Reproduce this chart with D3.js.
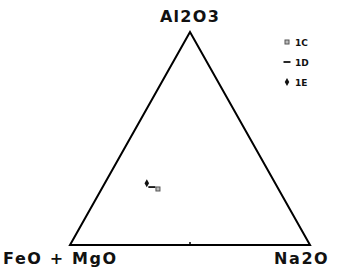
<!DOCTYPE html>
<html>
<head>
<meta charset="utf-8">
<script src="https://cdn.jsdelivr.net/npm/d3@7"></script>
<style>
  body { margin: 0; background: #fff; }
  text { font-family: "DejaVu Sans", "Liberation Sans", sans-serif; font-weight: bold; fill: #111; }
</style>
</head>
<body>
<div id="chart"></div>
<script>
// ternary apexes
const apexLabels = ["Al2O3", "FeO + MgO", "Na2O"]

// samples: fractions of Al2O3, FeO+MgO, Na2O
const samples = ["1C", "1D", "1E"]
const al2o3 = [0.263, 0.272, 0.29]
const femg = [0.502, 0.523, 0.535]
const na2o = [0.235, 0.205, 0.175]

const width = 348, height = 267

const svg = d3.select("#chart")
  .append("svg")
    .attr("width", width)
    .attr("height", height)

// triangle frame in screen coordinates
const x = d3.scaleLinear().domain([0, 1]).range([70, 310])
const y = d3.scaleLinear().domain([0, 1]).range([245, 32])

// barycentric -> screen
function project(a, f, n) {
  const s = a + f + n
  a /= s; n /= s
  return [x(n + a / 2), y(a)]
}

const corners = [project(1, 0, 0), project(0, 1, 0), project(0, 0, 1)]

svg.append("path")
  .attr("d", d3.line()(corners) + "Z")
  .attr("fill", "none")
  .attr("stroke", "#000")
  .attr("stroke-width", 2)
  .attr("stroke-linejoin", "miter")

// little tick in the middle of the base
svg.append("line")
  .attr("x1", x(0.5)).attr("x2", x(0.5))
  .attr("y1", y(0)).attr("y2", y(0) - 3)
  .attr("stroke", "#000").attr("stroke-width", 1.5)

// apex labels
svg.append("text")
  .attr("x", corners[0][0]).attr("y", 22)
  .attr("text-anchor", "middle")
  .style("font-size", "16px")
  .style("letter-spacing", "1.3px")
  .text(apexLabels[0])

svg.append("text")
  .attr("x", 3).attr("y", 264)
  .style("font-size", "16px")
  .style("letter-spacing", "1.6px")
  .text(apexLabels[1])

svg.append("text")
  .attr("x", 274).attr("y", 264)
  .style("font-size", "16px")
  .style("letter-spacing", "1.6px")
  .text(apexLabels[2])

// marker styles per sample
function drawMarker(g, key, cx, cy) {
  if (key === "1C") {
    g.append("rect")
      .attr("x", cx - 2).attr("y", cy - 2)
      .attr("width", 4).attr("height", 4)
      .attr("fill", "#bbb").attr("stroke", "#555").attr("stroke-width", 1)
  } else if (key === "1D") {
    g.append("line")
      .attr("x1", cx - 3.5).attr("x2", cx + 3.5)
      .attr("y1", cy).attr("y2", cy)
      .attr("stroke", "#111").attr("stroke-width", 1.8)
  } else {
    g.append("path")
      .attr("transform", "translate(" + cx + "," + cy + ")")
      .attr("d", d3.symbol().type(d3.symbolDiamond).size(18))
      .attr("fill", "#111")
  }
}

const pts = svg.append("g")
samples.forEach((s, i) => {
  const p = project(al2o3[i], femg[i], na2o[i])
  drawMarker(pts, s, p[0], p[1])
})

// legend
const legend = svg.append("g")
samples.forEach((s, i) => {
  const ly = 42 + i * 20
  drawMarker(legend, s, 287, ly)
  legend.append("text")
    .attr("x", 295).attr("y", ly + 3.5)
    .style("font-size", "9px")
    .text(s)
})
</script>
</body>
</html>
